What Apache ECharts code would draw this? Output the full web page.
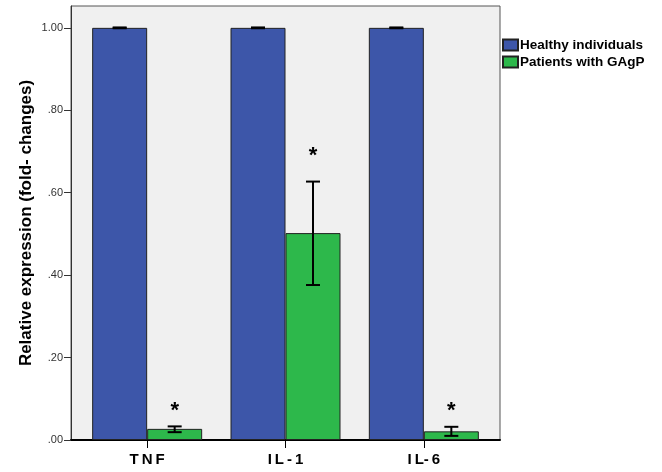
<!DOCTYPE html>
<html>
<head>
<meta charset="utf-8">
<script src="https://cdn.jsdelivr.net/npm/echarts@6/dist/echarts.min.js"></script>
<style>
  html, body { margin: 0; padding: 0; background: #fff; }
  #chart { width: 662px; height: 472px; }
</style>
</head>
<body>
<div id="chart"></div>
<script>
  // data
  const categories = ['T\u2009N\u2009F', 'I\u2009L\u2009-\u20091', 'I\u2009L-\u20096'];
  const healthy = [1.0, 1.0, 1.0];
  const healthyLow = [0.999, 0.999, 0.999];
  const healthyHigh = [1.001, 1.001, 1.001];
  const patients = [0.027, 0.502, 0.021];
  const patientsLow = [0.019, 0.376, 0.010];
  const patientsHigh = [0.033, 0.627, 0.032];
  const starY = [0.08, 0.70, 0.08];
  const yTicks = [0, 0.2, 0.4, 0.6, 0.8, 1.0];
  const yTickLabels = ['.00', '.20', '.40', '.60', '.80', '1.00'];

  const font = '"Liberation Sans", Arial, sans-serif';
  const blue = '#3d56a9';
  const green = '#2db84b';
  const barW = 55;
  const yMax = 1.053;

  // error bar, side = -1 for first bar in pair, +1 for second
  function errorBars(low, high, side) {
    return function (params, api) {
      const i = api.value(0);
      const off = side * barW / 2;
      const top = api.coord([i, high[i]]);
      const bot = api.coord([i, low[i]]);
      const x = top[0] + off;
      const style = { stroke: '#000', lineWidth: 2 };
      return {
        type: 'group',
        children: [
          { type: 'line', shape: { x1: x, y1: top[1], x2: x, y2: bot[1] }, style: style },
          { type: 'line', shape: { x1: x - 7, y1: top[1], x2: x + 7, y2: top[1] }, style: style },
          { type: 'line', shape: { x1: x - 7, y1: bot[1], x2: x + 7, y2: bot[1] }, style: style }
        ]
      };
    };
  }

  let myChart = echarts.init(document.getElementById('chart'));
  myChart.setOption({
    animation: false,
    backgroundColor: '#fff',
    textStyle: { fontFamily: font },
    legend: {
      orient: 'vertical',
      left: 502,
      top: 38,
      padding: 0,
      itemWidth: 15,
      itemHeight: 11,
      itemGap: 3,
      icon: 'rect',
      data: ['Healthy individuals', 'Patients with GAgP'],
      textStyle: { fontFamily: font, fontSize: 13.5, fontWeight: 'bold', color: '#000', padding: [0, 0, 0, -3] }
    },
    grid: [
      // frame of the plot area
      { left: 71, right: 162, top: 6, bottom: 32, show: true, backgroundColor: '#f0f0f0', borderColor: '#555', borderWidth: 1 },
      // bars
      { left: 78, right: 169, top: 6, bottom: 32 }
    ],
    xAxis: [
      {
        gridIndex: 0, type: 'value', min: 0, max: 1,
        axisLine: { show: true, lineStyle: { color: '#000', width: 2 } },
        axisTick: { show: false }, axisLabel: { show: false }, splitLine: { show: false }
      },
      {
        gridIndex: 1, type: 'category', data: categories,
        axisLine: { show: false },
        axisTick: { show: true, alignWithLabel: true, length: 8, lineStyle: { color: '#000', width: 1 } },
        axisLabel: { fontFamily: font, fontSize: 15, fontWeight: 'bold', color: '#000', margin: 12 }
      }
    ],
    yAxis: [
      {
        gridIndex: 0, type: 'value', min: 0, max: yMax,
        name: 'Relative expression (fold- changes)',
        nameLocation: 'middle', nameGap: 36, nameMoveOverlap: false,
        nameTextStyle: { fontFamily: font, fontSize: 17, fontWeight: 'bold', color: '#000' },
        axisLine: { show: true, lineStyle: { color: '#333', width: 1 } },
        axisTick: { show: true, length: 7, customValues: yTicks, lineStyle: { color: '#333' } },
        axisLabel: {
          customValues: yTicks, fontFamily: font, fontSize: 11, color: '#333', margin: 8,
          formatter: function (v) { return yTickLabels[yTicks.indexOf(v)]; }
        },
        splitLine: { show: false }
      },
      { gridIndex: 1, type: 'value', min: 0, max: yMax, show: false }
    ],
    series: [
      {
        name: 'Healthy individuals', type: 'bar', xAxisIndex: 1, yAxisIndex: 1,
        barWidth: barW, barGap: '0%', data: healthy,
        itemStyle: { color: blue, borderColor: '#222', borderWidth: 1 }
      },
      {
        name: 'Patients with GAgP', type: 'bar', xAxisIndex: 1, yAxisIndex: 1,
        barWidth: barW, barGap: '0%', data: patients,
        itemStyle: { color: green, borderColor: '#222', borderWidth: 1 }
      },
      {
        type: 'custom', xAxisIndex: 1, yAxisIndex: 1, silent: true, z: 5,
        renderItem: errorBars(healthyLow, healthyHigh, -1),
        data: categories.map(function (c, i) { return [i]; })
      },
      {
        type: 'custom', xAxisIndex: 1, yAxisIndex: 1, silent: true, z: 5,
        renderItem: errorBars(patientsLow, patientsHigh, 1),
        data: categories.map(function (c, i) { return [i]; })
      },
      {
        type: 'custom', xAxisIndex: 1, yAxisIndex: 1, silent: true, z: 5,
        renderItem: function (params, api) {
          const i = api.value(0);
          const p = api.coord([i, starY[i]]);
          return {
            type: 'text',
            style: {
              x: p[0] + barW / 2, y: p[1] + 4, text: '*',
              fontFamily: font, fontSize: 22, fontWeight: 'bold', fill: '#000',
              align: 'center', verticalAlign: 'middle'
            }
          };
        },
        data: categories.map(function (c, i) { return [i]; })
      }
    ]
  });
</script>
</body>
</html>
